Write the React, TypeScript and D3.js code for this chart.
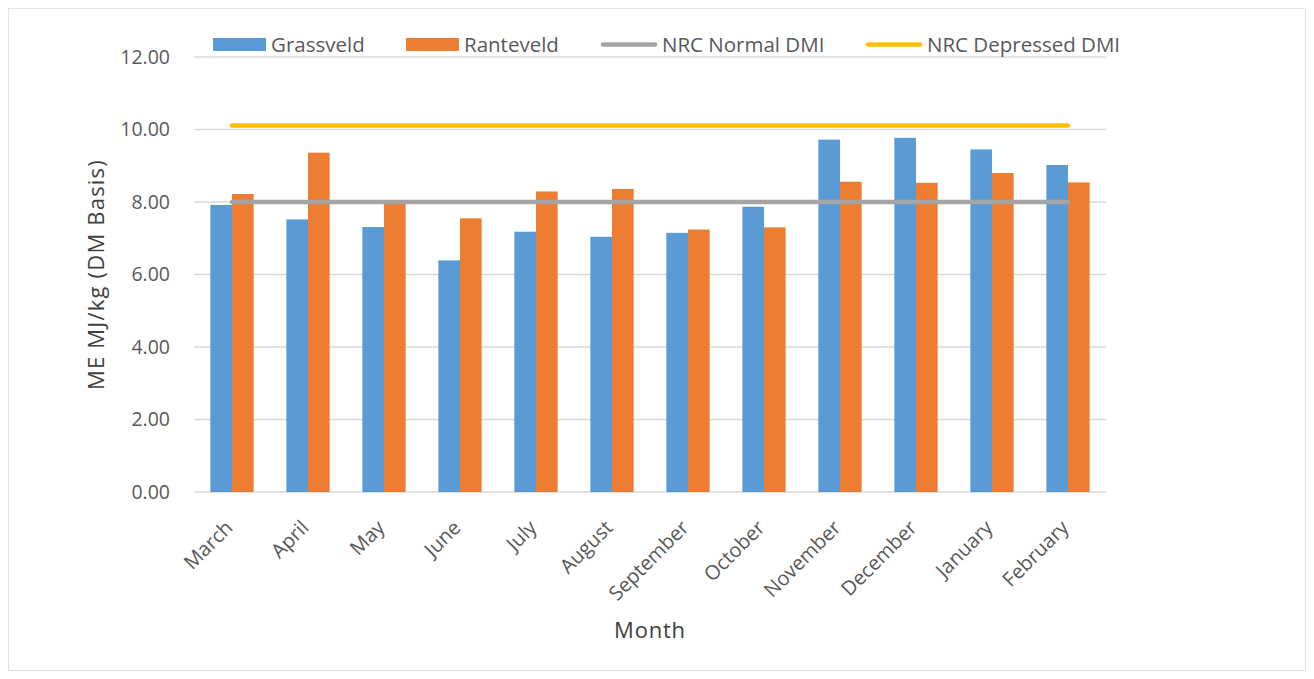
import React from "react";
import * as d3 from "d3";

const months = ["March", "April", "May", "June", "July", "August", "September", "October", "November", "December", "January", "February"];
const grassveld = [7.92, 7.52, 7.31, 6.39, 7.18, 7.04, 7.15, 7.87, 9.72, 9.77, 9.45, 9.02];
const ranteveld = [8.22, 9.36, 7.97, 7.55, 8.29, 8.36, 7.24, 7.30, 8.56, 8.53, 8.80, 8.54];
const nrcNormal = months.map(() => 8.0);
const nrcDepressed = months.map(() => 10.11);
const yTicks = [0, 2, 4, 6, 8, 10, 12];

const W = 1314, H = 679;
const plot = { left: 194, right: 1106, top: 57, bottom: 492 };
const FONT = "'Open Sans', 'Noto Sans', sans-serif";
const BLUE = "#5B9BD5", ORANGE = "#ED7D31", GRAY = "#A5A5A5", GOLD = "#FFC000";

export default function App() {
  const x = d3.scaleBand<string>().domain(months).range([plot.left, plot.right]).paddingInner(0).paddingOuter(0);
  const y = d3.scaleLinear().domain([0, 12]).range([plot.bottom, plot.top]);
  const bw = x.bandwidth() * 0.285;
  const cx = (m: string) => (x(m) as number) + x.bandwidth() / 2;
  const lineGen = d3.line<number>().x((_, i) => cx(months[i])).y((d) => y(d));

  const legend = [
    { label: "Grassveld", type: "rect", color: BLUE, x: 213, tx: 271 },
    { label: "Ranteveld", type: "rect", color: ORANGE, x: 406, tx: 464 },
    { label: "NRC Normal DMI", type: "line", color: GRAY, x: 601, tx: 662 },
    { label: "NRC Depressed DMI", type: "line", color: GOLD, x: 866, tx: 927 },
  ];

  return (
    <svg width={W} height={H} style={{ position: "absolute", left: 0, top: 0, background: "#fff" }} fontFamily={FONT}>
      <rect x={8.5} y={8.5} width={1297} height={662} fill="#fff" stroke="#E3E3E3" />
      {yTicks.map((t) => (
        <g key={t}>
          <line x1={plot.left} x2={plot.right} y1={y(t)} y2={y(t)} stroke="#D9D9D9" strokeWidth={1.5} />
          <text x={170} y={y(t)} dy="0.35em" textAnchor="end" fontSize={19.5} fill="#595959">{t.toFixed(2)}</text>
        </g>
      ))}
      {months.map((m, i) => (
        <g key={m}>
          <rect x={cx(m) - bw} y={y(grassveld[i])} width={bw} height={y(0) - y(grassveld[i])} fill={BLUE} />
          <rect x={cx(m)} y={y(ranteveld[i])} width={bw} height={y(0) - y(ranteveld[i])} fill={ORANGE} />
        </g>
      ))}
      <path d={lineGen(nrcNormal) || ""} fill="none" stroke={GRAY} strokeWidth={4.5} strokeLinecap="round" />
      <path d={lineGen(nrcDepressed) || ""} fill="none" stroke={GOLD} strokeWidth={4.5} strokeLinecap="round" />
      {months.map((m) => (
        <text key={m} transform={`translate(${cx(m) - 3},${plot.bottom + 32}) rotate(-45)`} textAnchor="end" dy="0.35em" fontSize={20} fill="#595959">{m}</text>
      ))}
      <text transform={`translate(96,${(plot.top + plot.bottom) / 2}) rotate(-90)`} textAnchor="middle" dy="0.35em" fontSize={22} letterSpacing={1.2} fill="#404040">ME MJ/kg (DM Basis)</text>
      <text x={(plot.left + plot.right) / 2} y={630} textAnchor="middle" dy="0.35em" fontSize={22} letterSpacing={0.8} fill="#404040">Month</text>
      {legend.map((l) => (
        <g key={l.label}>
          {l.type === "rect" ? (
            <rect x={l.x} y={38} width={53} height={13} fill={l.color} />
          ) : (
            <line x1={l.x + 2} x2={l.x + 54} y1={44.5} y2={44.5} stroke={l.color} strokeWidth={4.5} strokeLinecap="round" />
          )}
          <text x={l.tx} y={44.5} dy="0.35em" fontSize={20.5} fill="#595959">{l.label}</text>
        </g>
      ))}
    </svg>
  );
}
